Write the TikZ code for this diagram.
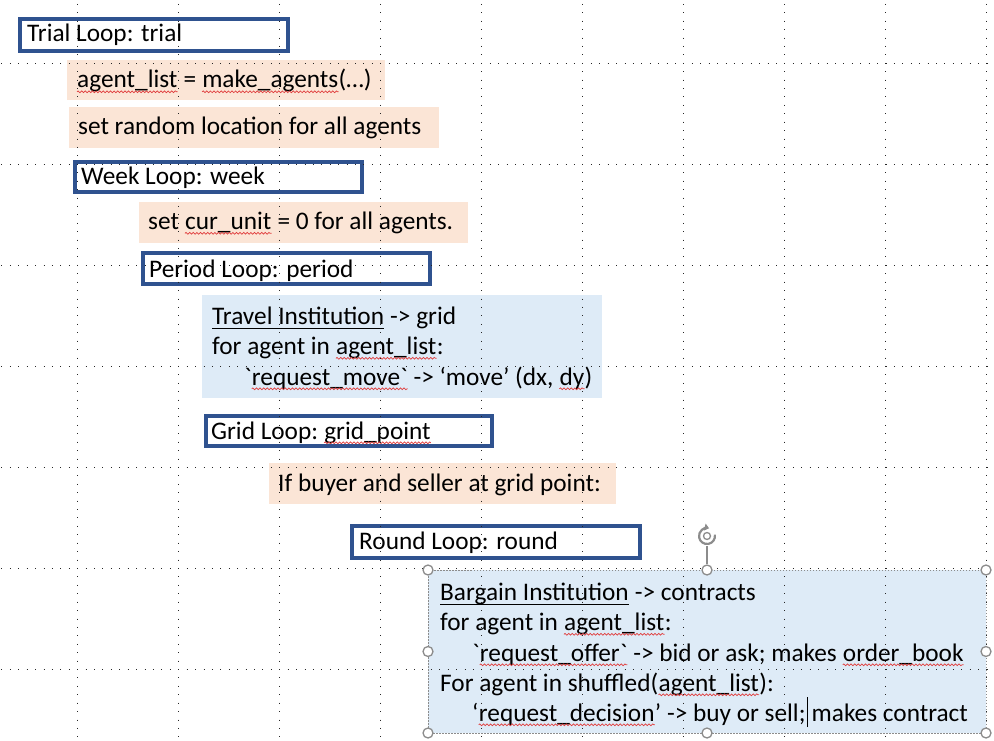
\documentclass[tikz,border=0pt]{standalone}
\usepackage{fontspec}
\newfontfamily\pptfont{Carlito}
\usetikzlibrary{arrows.meta,decorations.pathmorphing}
\definecolor{loopblue}{HTML}{2F528F}
\definecolor{peach}{HTML}{FBE5D6}
\definecolor{lightblue}{HTML}{DEEBF7}
\definecolor{sqred}{HTML}{E03C3C}
\definecolor{handlegray}{HTML}{8C8C8C}
\newcommand\wsp{\kern\fontdimen2\font}
\tikzset{
  loopbox/.style={draw=loopblue, line width=4pt},
  peachbox/.style={fill=peach},
  bluebox/.style={fill=lightblue},
  txt/.style={font=\pptfont\fontsize{25.3}{30.3}\selectfont, inner sep=0pt, anchor=base west},
  gridv/.style={line width=1pt, black!85, dash pattern=on 1pt off 7.42pt},
  handle/.style={circle, draw=handlegray, fill=white, line width=1.3pt, minimum size=10pt, inner sep=0pt},
  selframe/.style={draw=handlegray, line width=0.8pt, dash pattern=on 1.5pt off 1.5pt},
  sqline/.style={draw=sqred, line width=0.7pt, decorate, decoration={snake, amplitude=0.9pt, segment length=3.6pt}},
  ulline/.style={draw=black, line width=1.3pt},
}
\newcommand\squig[1]{\draw[sqline] ([yshift=-3.8pt]#1.base west) -- ([yshift=-3.8pt]#1.base east);}
\newcommand\undl[1]{\draw[ulline] ([yshift=-4.2pt]#1.base west) -- ([yshift=-4.2pt]#1.base east);}
\begin{document}
\begin{tikzpicture}[x=1pt, y=-1pt]
\useasboundingbox[fill=white] (0,0) rectangle (994,741);
% boxes
\path[loopbox] (19.5,19) rectangle (288,51);
\path[peachbox] (67,60) rectangle (385,100);
\path[peachbox] (69,107) rectangle (439,148);
\path[loopbox] (75,162) rectangle (361.5,192.5);
\path[peachbox] (139,202) rectangle (468,242.5);
\path[loopbox] (143,253) rectangle (430,284);
\path[bluebox] (202,295) rectangle (602,397.5);
\path[loopbox] (205.5,416) rectangle (491.5,446);
\path[peachbox] (268.5,463) rectangle (616,504);
\path[loopbox] (352.3,526.3) rectangle (639.8,557.7);
\path[bluebox] (428,570) rectangle (986,733);
% texts
\node[txt] (trial) at (27,42) {Trial Loop: trial};

\node[txt] (mk1) at (77,88) {agent\_list};
\node[txt] (mk2) at (mk1.base east) {\wsp=\wsp};
\node[txt] (mk3) at (mk2.base east) {make\_agents};
\node[txt] (mk4) at (mk3.base east) {(…)};

\node[txt] (rnd) at (78,135) {set random location for all agents};
\node[txt] (week) at (81,185) {Week Loop: week};

\node[txt] (cur1) at (148,229.5) {set\wsp};
\node[txt] (cur2) at (cur1.base east) {cur\_unit};
\node[txt] (cur3) at (cur2.base east) {\wsp= 0 for all agents.};

\node[txt] (period) at (149,277) {Period Loop: period};

\node[txt] (tr1a) at (212,324) {Travel Institution};
\node[txt] (tr1b) at (tr1a.base east) {\wsp-> grid};
\node[txt] (tr2a) at (212,354.5) {for agent in\wsp};
\node[txt] (tr2b) at (tr2a.base east) {agent\_list};
\node[txt] (tr2c) at (tr2b.base east) {:};
\node[txt] (tr3a) at (244,385) {`};
\node[txt] (tr3b) at (tr3a.base east) {request\_move`};
\node[txt] (tr3c) at (tr3b.base east) {\wsp-> ‘move’ (dx,\wsp};
\node[txt] (tr3d) at (tr3c.base east) {dy};
\node[txt] (tr3e) at (tr3d.base east) {)};

\node[txt] (g1) at (211,439) {Grid Loop:\wsp};
\node[txt] (g2) at (g1.base east) {grid\_point};

\node[txt] (ifb) at (278,491) {If buyer and seller at grid point:};
\node[txt] (round) at (359,549) {Round Loop: round};

\node[txt] (b1a) at (440,600) {Bargain Institution};
\node[txt] (b1b) at (b1a.base east) {\wsp-> contracts};
\node[txt] (b2a) at (440,630.5) {for agent in\wsp};
\node[txt] (b2b) at (b2a.base east) {agent\_list};
\node[txt] (b2c) at (b2b.base east) {:};
\node[txt] (b3a) at (472,661) {`};
\node[txt] (b3b) at (b3a.base east) {request\_offer`};
\node[txt] (b3c) at (b3b.base east) {\wsp-> bid or ask; makes\wsp};
\node[txt] (b3d) at (b3c.base east) {order\_book};
\node[txt] (b4a) at (440,691) {For agent in shuffled(};
\node[txt] (b4b) at (b4a.base east) {agent\_list};
\node[txt] (b4c) at (b4b.base east) {):};
\node[txt] (b5a) at (472,721) {‘};
\node[txt] (b5b) at (b5a.base east) {request\_decision};
\node[txt] (b5c) at (b5b.base east) {’ -> buy or sell;};
\node[txt] (b5d) at (b5c.base east) {\wsp makes contract};

% spell-check squiggles and underlines
\squig{mk1}\squig{mk3}\squig{cur2}\squig{tr2b}\squig{tr3b}\squig{tr3d}\squig{g2}
\squig{b2b}\squig{b3b}\squig{b3d}\squig{b4b}\squig{b5b}
\undl{tr1a}\undl{b1a}
% text cursor
\draw[line width=1.1pt] ([xshift=1.5pt,yshift=-6pt]b5c.base east) -- ([xshift=1.5pt,yshift=24pt]b5c.base east);

% grid of dots
\foreach \k in {0,...,9}{
  \draw[gridv] ({77.7+101*\k},-4.56) -- ({77.7+101*\k},745);
}
\foreach \k in {0,...,6}{
  \draw[gridv] (-7.0,{63.3+101*\k}) -- (1000,{63.3+101*\k});
}
% selection frame and handles
\draw[selframe] (428,570) rectangle (986,733);
\coordinate (rot) at (707,536);
\node[handle] (hnw) at (428,570) {};
\node[handle] (hn) at (707,570) {};
\node[handle] (hne) at (986,570) {};
\node[handle] (hw) at (428,651.5) {};
\node[handle] (he) at (986,651.5) {};
\node[handle] (hsw) at (428,733) {};
\node[handle] (hs) at (707,733) {};
\node[handle] (hse) at (986,733) {};
\draw[handlegray, line width=1.2pt] (707,546) -- (hn);
\draw[handlegray, line width=2.2pt, -{Triangle[length=4.5pt,width=7pt]}] (rot) ++(-10:8) arc[start angle=-10, end angle=285, radius=8];
\draw[handlegray, line width=1.3pt] (rot) circle[radius=3.5];
\end{tikzpicture}
\end{document}
